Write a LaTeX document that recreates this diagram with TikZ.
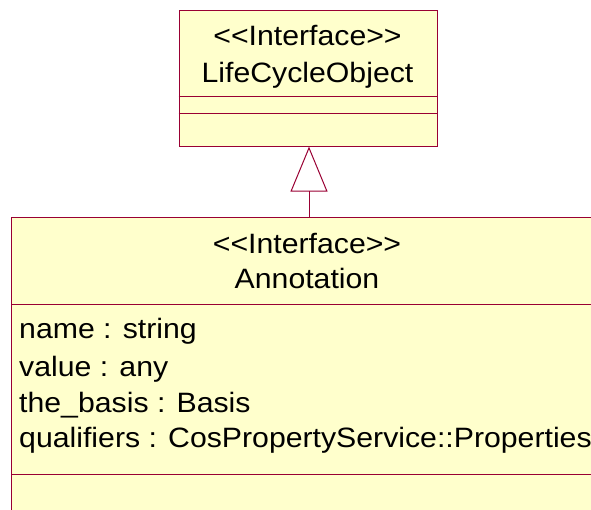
\documentclass[tikz,border=0pt]{standalone}
\usepackage{fontspec}
\newfontfamily\umlfont{Liberation Sans}[FakeStretch=1.08]
\usetikzlibrary{arrows.meta}
\definecolor{umlfill}{HTML}{FFFFCC}
\definecolor{umlline}{HTML}{990033}
\begin{document}
\begin{tikzpicture}[x=1pt,y=-1pt,
  box/.style={draw=umlline, fill=umlfill, line width=1.1pt, inner sep=0pt},
  sep/.style={draw=umlline, line width=1pt},
  txt/.style={anchor=base, inner sep=0pt, font=\umlfont\fontsize{28}{34}\selectfont},
  attr/.style={txt, anchor=base west},
  gen/.style={draw=umlline, line width=1pt, -{Triangle[open, length=45pt, width=37pt]}}]
\useasboundingbox (0,0) rectangle (591,509);
\clip (0,0) rectangle (591,509);
% LifeCycleObject
\node[box, minimum width=258pt, minimum height=136pt, anchor=north west] (lco) at (178.5,9.5) {};
\draw[sep] (178.5,96.7) -- (436.5,96.7);
\draw[sep] (178.5,113.3) -- (436.5,113.3);
\node[txt] (lcos) at (307.5,45) {<<Interface>>};
\node[txt] (lcon) at (307.5,82) {LifeCycleObject};
% Annotation
\node[box, minimum width=592pt, minimum height=320pt, anchor=north west] (annot) at (11,216.7) {};
\draw[sep] (11,304) -- (603,304);
\draw[sep] (11,474) -- (603,474);
\node[txt] (ans) at (307,253) {<<Interface>>};
\node[txt] (ann) at (307,288) {Annotation};
\node[attr] (a1) at (19,338) {name : string};
\node[attr] (a2) at (19,376) {value : any};
\node[attr] (a3) at (19,412) {the\_basis : Basis};
\node[attr] (a4) at (19,447) {qualifiers : CosPropertyService::Properties};
% generalization
\coordinate (gx) at (309,0);
\draw[gen] (annot.north -| gx) -- (lco.south -| gx);
\end{tikzpicture}
\end{document}
